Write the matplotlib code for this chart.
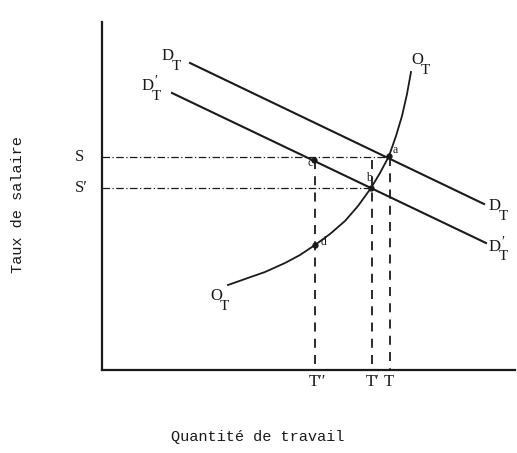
import numpy as np
import matplotlib.pyplot as plt

# diagram coordinates (pixel-like, y grows downward)
axis_origin = (102, 370)
axis_top = 22
axis_right = 515

demand = [(190, 63), (484, 204)]        # D_T
demand2 = [(172, 93), (486, 243)]       # D'_T

supply_x = [228, 245, 265, 285, 300, 315, 330, 345, 358, 371, 380, 389, 396, 402, 407, 411]
supply_y = [285, 279, 272, 263, 255, 245, 234, 221, 206, 188, 173, 156, 136, 116, 94, 72]

wage_levels = [157, 188]                # S, S'
wage_ends = [389, 371]
wage_labels = ["S", "S\u2032"]

qty_x = [315, 372, 390]                 # T'', T', T
qty_top = [160, 160, 157]
qty_labels = ["T\u2032\u2032", "T\u2032", "T"]

pts = {'a': (389, 156), 'b': (371, 188), 'c': (314, 160), 'd': (315, 245)}
pt_offsets = {'a': (4, -6), 'b': (-5, -10), 'c': (-7, 3), 'd': (6, -3)}

# curve labels: (main letter, primed?, x, y)
curve_labels = [('D', False, 162, 56), ('D', True, 142, 86),
                ('D', False, 489, 206), ('D', True, 489, 247),
                ('O', False, 411, 60), ('O', False, 210, 296)]

fig = plt.figure(figsize=(5.17, 4.53), dpi=100)
ax = fig.add_axes([0, 0, 1, 1])
ax.set_xlim(0, 517)
ax.set_ylim(453, 0)
ax.axis('off')

ink = '#1a1a1a'
serif = ['Liberation Serif', 'DejaVu Serif']
ax.plot([axis_origin[0], axis_origin[0]], [axis_top, axis_origin[1]], color=ink, lw=1.6)
ax.plot([axis_origin[0], axis_right], [axis_origin[1], axis_origin[1]], color=ink, lw=1.6)

ax.plot(*zip(*demand), color=ink, lw=1.5)
ax.plot(*zip(*demand2), color=ink, lw=1.5)
ax.plot(supply_x, supply_y, color=ink, lw=1.3)

for y, xe in zip(wage_levels, wage_ends):
    ax.plot([axis_origin[0], xe], [y, y], color=ink, lw=0.9, ls=(0, (6, 2, 1, 2)))
for x, yt in zip(qty_x, qty_top):
    ax.plot([x, x], [yt, axis_origin[1]], color=ink, lw=1.3, ls=(0, (5, 4)))

for k, (x, y) in pts.items():
    ax.plot(x, y, 'o', color=ink, ms=3.5)
    dx, dy = pt_offsets[k]
    ax.text(x + dx, y + dy, k, fontsize=8.5, family=serif, color=ink,
            ha='left', va='center')

for letter, primed, x, y in curve_labels:
    ax.text(x, y, letter, fontsize=12, family=serif, color=ink, ha='left', va='center')
    ax.text(x + 10, y + 10, 'T', fontsize=11, family=serif, color=ink, ha='left', va='center')
    if primed:
        ax.text(x + 12, y - 5, "\u2032", fontsize=10, family=serif, color=ink, ha='left', va='center')

for y, t in zip(wage_levels, wage_labels):
    ax.text(75, y, t, fontsize=12, family=serif, color=ink, va='center')
for x, t in zip(qty_x, qty_labels):
    ax.text(x - 6, 382, t, fontsize=12, family=serif, color=ink, ha='left', va='center')

ax.text(258, 437, 'Quantité de travail', fontsize=11, family='Liberation Mono',
        color=ink, ha='center', va='center')
ax.text(18, 205, 'Taux de salaire', fontsize=11, family='Liberation Mono',
        color=ink, ha='center', va='center', rotation=90)

fig.savefig('out.png', dpi=100)
